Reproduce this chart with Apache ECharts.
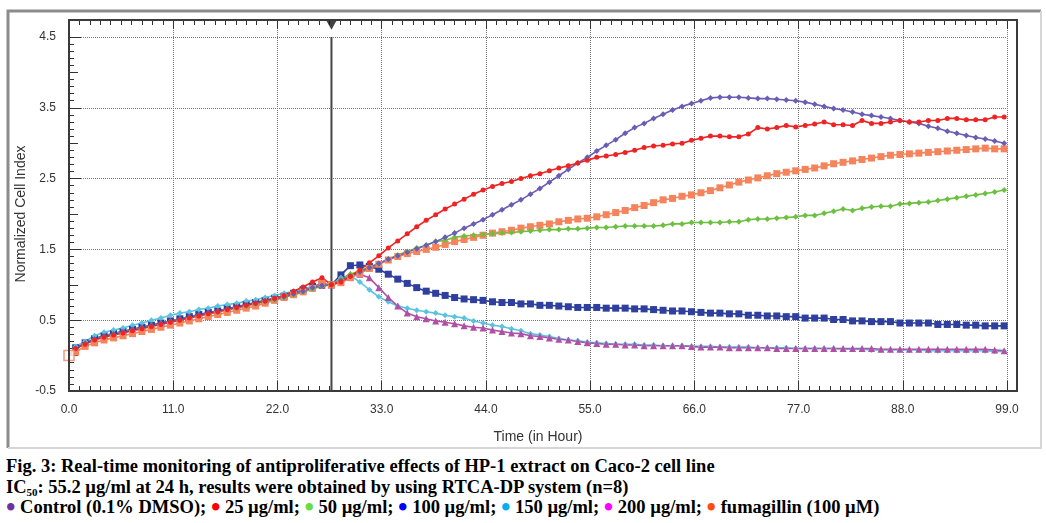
<!DOCTYPE html>
<html>
<head>
<meta charset="utf-8">
<script src="https://cdn.jsdelivr.net/npm/echarts@6/dist/echarts.min.js"></script>
<style>
html,body{margin:0;padding:0;background:#fff;width:1046px;height:523px;overflow:hidden;}
#chart{position:absolute;left:0;top:0;width:1046px;height:455px;}
#cap{position:absolute;left:6px;top:456px;font-family:"Liberation Serif","Times New Roman",serif;font-weight:bold;font-size:18.5px;line-height:20.5px;color:#000;white-space:nowrap;}
#cap sub{font-size:11px;line-height:0;vertical-align:-3px;}
#cap .b{font-size:27px;line-height:0;vertical-align:-3px;}
</style>
</head>
<body>
<div id="chart"></div>
<div id="cap">
<div id="cap1">Fig. 3: Real-time monitoring of antiproliferative effects of HP-1 extract on Caco-2 cell line</div>
<div id="cap2">IC<sub>50</sub>: 55.2 µg/ml at 24 h, results were obtained by using RTCA-DP system (n=8)</div>
<div id="cap3"></div>
</div>
<script>
// ---------- data ----------
const hours = [0,
0.7,1.7,2.7,3.7,4.7,5.7,6.7,7.7,8.7,9.7,
10.7,11.7,12.7,13.7,14.7,15.7,16.7,17.7,18.7,19.7,
20.7,21.7,22.7,23.7,24.7,25.7,26.7,27.7,
28.7,29.7,30.7,31.7,32.7,33.7,34.7,35.7,36.7,37.7,
38.7,39.7,40.7,41.7,42.7,43.7,44.7,45.7,46.7,47.7,
48.7,49.7,50.7,51.7,52.7,53.7,54.7,55.7,56.7,57.7,
58.7,59.7,60.7,61.7,62.7,63.7,64.7,65.7,66.7,67.7,
68.7,69.7,70.7,71.7,72.7,73.7,74.7,75.7,76.7,77.7,
78.7,79.7,80.7,81.7,82.7,83.7,84.7,85.7,86.7,87.7,
88.7,89.7,90.7,91.7,92.7,93.7,94.7,95.7,96.7,97.7,98.7];

const control = [0,
0.10,0.17,0.23,0.27,0.30,0.33,0.36,0.39,0.42,0.45,0.48,0.51,0.54,0.57,0.60,0.62,0.65,0.68,0.71,0.74,0.77,0.80,0.83,0.87,0.91,0.96,0.99,1.00,
1.06,1.12,1.18,1.24,1.30,1.36,1.41,1.46,1.51,1.56,
1.61,1.67,1.73,1.80,1.86,1.92,1.99,2.06,2.13,2.20,
2.28,2.36,2.45,2.54,2.63,2.72,2.80,2.89,2.97,3.05,
3.14,3.22,3.28,3.35,3.41,3.47,3.52,3.56,3.60,3.64,
3.65,3.65,3.65,3.64,3.63,3.63,3.62,3.61,3.60,3.58,
3.55,3.52,3.49,3.47,3.44,3.41,3.39,3.37,3.35,3.32,
3.30,3.28,3.24,3.21,3.17,3.14,3.11,3.08,3.06,3.03,3.00];

const ug25 = [0,
0.10,0.16,0.22,0.26,0.29,0.32,0.35,0.38,0.41,0.44,0.47,0.50,0.53,0.56,0.59,0.62,0.65,0.68,0.71,0.74,0.77,0.81,0.85,0.91,0.97,1.04,1.10,1.00,
1.04,1.12,1.21,1.31,1.41,1.52,1.62,1.72,1.82,1.91,
1.99,2.07,2.14,2.21,2.28,2.34,2.39,2.43,2.46,2.50,
2.54,2.57,2.61,2.65,2.68,2.72,2.76,2.80,2.82,2.84,
2.87,2.90,2.94,2.96,2.97,2.99,3.00,3.04,3.07,3.10,
3.10,3.09,3.09,3.13,3.22,3.20,3.22,3.25,3.23,3.25,
3.27,3.30,3.26,3.26,3.25,3.32,3.28,3.28,3.30,3.32,
3.30,3.30,3.32,3.32,3.35,3.35,3.33,3.33,3.33,3.37,3.37];

const ug50 = [0,
0.10,0.17,0.23,0.27,0.30,0.33,0.36,0.39,0.42,0.45,0.48,0.51,0.54,0.57,0.59,0.62,0.65,0.67,0.70,0.73,0.76,0.79,0.82,0.86,0.90,0.94,0.98,1.00,
1.08,1.15,1.20,1.25,1.30,1.36,1.42,1.47,1.52,1.56,
1.61,1.63,1.67,1.69,1.70,1.71,1.72,1.73,1.74,1.75,
1.76,1.77,1.78,1.78,1.79,1.79,1.80,1.81,1.81,1.82,
1.83,1.83,1.83,1.83,1.84,1.86,1.86,1.88,1.88,1.88,
1.88,1.89,1.89,1.92,1.93,1.93,1.94,1.95,1.96,1.98,
1.98,2.01,2.04,2.07,2.05,2.08,2.10,2.11,2.11,2.14,
2.15,2.16,2.17,2.19,2.21,2.23,2.25,2.27,2.29,2.31,2.34];

const ug100 = [0,
0.11,0.18,0.24,0.28,0.31,0.34,0.37,0.40,0.43,0.46,0.49,0.52,0.55,0.58,0.61,0.63,0.66,0.69,0.72,0.75,0.78,0.81,0.84,0.88,0.93,0.98,1.01,1.00,
1.14,1.27,1.28,1.26,1.22,1.15,1.08,1.02,0.96,0.91,
0.88,0.85,0.82,0.80,0.79,0.78,0.76,0.75,0.75,0.73,
0.73,0.71,0.71,0.70,0.69,0.68,0.68,0.68,0.67,0.67,
0.67,0.66,0.66,0.65,0.64,0.63,0.63,0.62,0.61,0.60,
0.60,0.59,0.59,0.57,0.57,0.56,0.56,0.55,0.55,0.53,
0.53,0.53,0.51,0.51,0.49,0.49,0.48,0.48,0.48,0.46,
0.46,0.46,0.46,0.44,0.44,0.44,0.43,0.43,0.42,0.42,0.42];

const ug150 = [0,
0.13,0.20,0.28,0.33,0.36,0.39,0.43,0.46,0.50,0.53,0.57,0.60,0.62,0.65,0.67,0.70,0.72,0.74,0.77,0.79,0.82,0.85,0.88,0.91,0.94,0.97,0.99,1.00,
1.10,1.13,1.04,0.93,0.83,0.76,0.70,0.67,0.64,0.62,
0.60,0.57,0.55,0.53,0.49,0.46,0.43,0.41,0.38,0.35,
0.31,0.29,0.27,0.24,0.22,0.21,0.19,0.18,0.17,0.16,
0.16,0.16,0.15,0.15,0.14,0.14,0.14,0.13,0.13,0.13,
0.12,0.12,0.12,0.12,0.11,0.11,0.11,0.11,0.10,0.10,
0.10,0.10,0.10,0.09,0.09,0.09,0.08,0.08,0.08,0.08,
0.08,0.08,0.07,0.07,0.07,0.07,0.07,0.07,0.07,0.06,0.06];

const ug200 = [0,
0.10,0.17,0.23,0.28,0.31,0.34,0.37,0.40,0.43,0.46,0.49,0.52,0.55,0.57,0.60,0.63,0.66,0.69,0.71,0.74,0.77,0.80,0.84,0.88,0.92,0.96,0.99,1.00,
1.08,1.15,1.15,1.10,0.96,0.82,0.70,0.60,0.55,0.52,
0.49,0.47,0.45,0.42,0.40,0.39,0.36,0.34,0.32,0.31,
0.28,0.27,0.25,0.23,0.22,0.20,0.18,0.17,0.16,0.16,
0.15,0.15,0.14,0.14,0.14,0.14,0.14,0.13,0.12,0.12,
0.12,0.11,0.11,0.11,0.11,0.11,0.10,0.10,0.10,0.10,
0.10,0.10,0.10,0.10,0.10,0.10,0.10,0.09,0.09,0.09,
0.09,0.09,0.09,0.09,0.09,0.09,0.09,0.09,0.09,0.08,0.07];

const fumagillin = [0,
0.05,0.13,0.18,0.22,0.25,0.28,0.31,0.34,0.37,0.40,0.43,0.46,0.49,0.52,0.55,0.58,0.61,0.64,0.67,0.70,0.74,0.78,0.82,0.86,0.90,0.95,1.02,1.00,
1.03,1.10,1.16,1.23,1.29,1.35,1.40,1.44,1.47,1.50,
1.53,1.57,1.61,1.64,1.67,1.70,1.73,1.75,1.77,1.80,
1.82,1.84,1.86,1.89,1.91,1.93,1.94,1.96,1.99,2.02,
2.05,2.09,2.12,2.16,2.20,2.22,2.25,2.27,2.30,2.33,
2.37,2.41,2.45,2.48,2.51,2.54,2.57,2.59,2.61,2.63,
2.65,2.68,2.71,2.73,2.75,2.77,2.79,2.81,2.83,2.84,
2.85,2.86,2.87,2.88,2.89,2.90,2.91,2.92,2.93,2.92,2.92];

const seriesNames = ['Control (0.1% DMSO)','25 µg/ml','50 µg/ml','100 µg/ml','150 µg/ml','200 µg/ml','fumagillin (100 µM)'];
const bulletColors = ['#7030a0','#ff0000','#66dd44','#0000ff','#00b0f0','#ff00ff','#ff4a10'];
const normHour = 27.7;
const startPoint = [[0, 0]];
const yTickLabels = [-0.5, 0.5, 1.5, 2.5, 3.5, 4.5];
const xTickLabels = [0, 11, 22, 33, 44, 55, 66, 77, 88, 99];

// caption legend line
document.getElementById('cap3').innerHTML = seriesNames.map((n, i) =>
  '<span class="b" style="color:' + bulletColors[i] + '">&#8226;</span> ' + n).join('; ');

// ---------- chart ----------
const chart = echarts.init(document.getElementById('chart'), null, {renderer: 'canvas'});
const values = [control, ug25, ug50, ug100, ug150, ug200, fumagillin];
const styles = [
  {color: '#6a5db5', symbol: 'diamond', size: 6},
  {color: '#ee2424', symbol: 'circle', size: 5},
  {color: '#6cc040', symbol: 'diamond', size: 6},
  {color: '#2e3f9e', symbol: 'rect', size: 7},
  {color: '#5ac4e0', symbol: 'diamond', size: 6},
  {color: '#b04fa5', symbol: 'triangle', size: 7},
  {color: '#f5845c', symbol: 'rect', size: 7}
];
const drawOrder = [3, 4, 5, 6, 2, 0, 1];

const series = [];
drawOrder.forEach(idx => {
  const st = styles[idx];
  series.push({
    name: seriesNames[idx], type: 'line', xAxisIndex: 0, yAxisIndex: 0,
    data: hours.map((h, i) => i === 0 ? {value: [h, values[idx][i]], symbol: 'none'} : [h, values[idx][i]]),
    symbol: st.symbol, symbolSize: st.size, showSymbol: true, showAllSymbol: true,
    clip: false,
    lineStyle: {color: st.color, width: 1.6},
    itemStyle: {color: st.color},
    emphasis: {disabled: true}, z: 5
  });
});
series.push({
  type: 'scatter', xAxisIndex: 0, yAxisIndex: 0, data: startPoint,
  symbol: 'rect', symbolSize: 10, clip: false,
  itemStyle: {color: '#fff', borderColor: '#f08060', borderWidth: 1.5}, z: 6
});
series.push({
  type: 'line', xAxisIndex: 1, yAxisIndex: 2,
  data: [[normHour, -0.5], [normHour, 4.5]], symbol: 'none',
  lineStyle: {color: '#454545', width: 2}, z: 4, emphasis: {disabled: true}
});
series.push({
  type: 'scatter', xAxisIndex: 1, yAxisIndex: 2,
  data: [[normHour, 4.665]], symbol: 'triangle', symbolRotate: 180, symbolSize: [10, 9],
  clip: false, itemStyle: {color: '#111'}, z: 7
});

const labelFont = {color: '#333', fontSize: 12, fontFamily: 'Liberation Sans, Arial, sans-serif'};
const gridLine = {show: true, lineStyle: {color: '#777', width: 1, type: 'dotted'}};
const option = {
  animation: false,
  backgroundColor: '#fff',
  grid: [
    {left: 69, right: 39, top: 37, bottom: 64},
    {left: 69, right: 39, top: 20, bottom: 64}
  ],
  xAxis: [
    {
      type: 'value', gridIndex: 0, position: 'bottom', min: 0, max: 99, interval: 11,
      axisLine: {show: false, onZero: false},
      axisTick: {show: true, inside: true, length: 10, lineStyle: {color: '#333', width: 1}},
      minorTick: {show: true, splitNumber: 10, length: 5, lineStyle: {color: '#333', width: 1}},
      axisLabel: Object.assign({margin: 13, formatter: v => xTickLabels.indexOf(v) >= 0 ? v.toFixed(1) : ''}, labelFont),
      splitLine: {show: false},
      name: 'Time (in Hour)', nameLocation: 'middle', nameGap: 39, nameMoveOverlap: false,
      nameTextStyle: {color: '#333', fontSize: 14, fontFamily: 'Liberation Sans, Arial, sans-serif'}
    },
    {
      type: 'value', gridIndex: 1, position: 'top', min: 0, max: 99, interval: 11,
      axisLine: {show: false, onZero: false},
      axisTick: {show: true, inside: true, length: 9, lineStyle: {color: '#333', width: 1}},
      minorTick: {show: true, splitNumber: 10, length: 5, lineStyle: {color: '#333', width: 1}},
      axisLabel: {show: false},
      splitLine: gridLine
    }
  ],
  yAxis: [
    {
      type: 'value', gridIndex: 0, position: 'left', min: -0.5, max: 4.5, interval: 1,
      axisLine: {show: false, onZero: false},
      axisTick: {show: true, inside: true, length: 12, lineStyle: {color: '#333', width: 1}},
      minorTick: {show: true, splitNumber: 10, length: 5, lineStyle: {color: '#333', width: 1}},
      axisLabel: Object.assign({margin: 13, formatter: v => yTickLabels.indexOf(Math.round(v * 10) / 10) >= 0 ? v.toFixed(1) : ''}, labelFont),
      splitLine: gridLine,
      name: 'Normalized Cell Index', nameLocation: 'middle', nameGap: 41, nameMoveOverlap: false,
      nameTextStyle: {color: '#333', fontSize: 14, fontFamily: 'Liberation Sans, Arial, sans-serif'}
    },
    {
      type: 'value', gridIndex: 0, position: 'left', min: -0.5, max: 4.5, interval: 0.5,
      axisLine: {show: false, onZero: false},
      axisTick: {show: true, inside: true, length: 9, lineStyle: {color: '#333', width: 1}},
      axisLabel: {show: false}, splitLine: {show: false}
    },
    {
      type: 'value', gridIndex: 1, min: -0.5, max: 4.74, show: false
    }
  ],
  graphic: [
    {type: 'rect', shape: {x: 69, y: 20, width: 948, height: 371}, style: {fill: 'none', stroke: '#3a3a3a', lineWidth: 2}, z: 10, silent: true},
    {type: 'polyline', shape: {points: [[8, 448], [8, 11], [1041, 11]]}, style: {stroke: '#8c8c8c', lineWidth: 3, fill: 'none'}, z: 10, silent: true},
    {type: 'polyline', shape: {points: [[1041, 11], [1041, 448], [8, 448]]}, style: {stroke: '#d6d6d6', lineWidth: 2, fill: 'none'}, z: 10, silent: true}
  ],
  series: series
};
chart.setOption(option);
</script>
</body>
</html>
